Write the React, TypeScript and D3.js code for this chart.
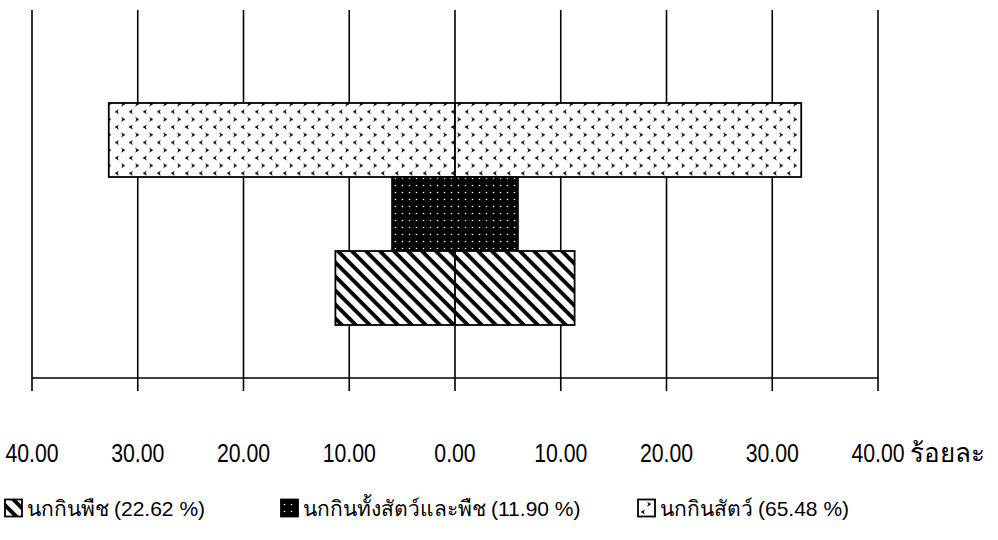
import React from "react";
import * as d3 from "d3";

const categories = ["นกกินสัตว์", "นกกินทั้งสัตว์และพืช", "นกกินพืช"];
const leftValues = [32.74, 5.95, 11.31];
const rightValues = [32.74, 5.95, 11.31];
const tickValues = [-40, -30, -20, -10, 0, 10, 20, 30, 40];
const tickLabels = ["40.00", "30.00", "20.00", "10.00", "0.00", "10.00", "20.00", "30.00", "40.00"];
const legendNames = ["นกกินพืช", "นกกินทั้งสัตว์และพืช", "นกกินสัตว์"];
const legendShares = ["(22.62 %)", "(11.90 %)", "(65.48 %)"];
const legendPatterns = ["hatch", "omni", "carni"];
const barPatterns = ["carni", "omni", "hatch"];
const axisTitle = "ร้อยละ";

const W = 998;
const H = 540;
const NUM_FONT = "'Liberation Sans', Arial, sans-serif";
const THAI_FONT = "'Liberation Sans', sans-serif";

export default function App() {
  const x = d3.scaleLinear().domain([-40, 40]).range([32, 878]);
  const y = d3.scaleBand<string>().domain(categories).range([103, 325]).padding(0);
  const gridTop = 10;
  const axisY = 378;
  const tickBottom = 391;
  const legendX = [5, 281, 638];
  const legendY = 508;

  return (
    <svg
      width={W}
      height={H}
      style={{ position: "absolute", left: 0, top: 0, background: "#fff" }}
      xmlns="http://www.w3.org/2000/svg"
    >
      <defs>
        <pattern id="carni" patternUnits="userSpaceOnUse" width={14} height={15.4}>
          <rect width={14} height={15.4} fill="#fff" />
          <polygon points="7,1.4 2.6,3.9 7,6.4 5.6,3.9" fill="#000" />
          <polygon points="9,9.1 13.4,11.6 9,14.1 10.4,11.6" fill="#000" />
        </pattern>
        <pattern id="omni" patternUnits="userSpaceOnUse" width={7} height={7}>
          <rect width={7} height={7} fill="#000" />
          <circle cx={3.5} cy={3.5} r={0.8} fill="#fff" />
        </pattern>
        <pattern
          id="hatch"
          patternUnits="userSpaceOnUse"
          width={9.9}
          height={10}
          patternTransform="rotate(-45)"
        >
          <rect width={9.9} height={10} fill="#fff" />
          <line x1={2} y1={0} x2={2} y2={10} stroke="#000" strokeWidth={3.8} />
        </pattern>
      </defs>

      {/* grid lines */}
      {tickValues.map((t, i) => (
        <line
          key={"g" + i}
          x1={x(t)}
          x2={x(t)}
          y1={gridTop}
          y2={tickBottom}
          stroke="#000"
          strokeWidth={1.6}
        />
      ))}
      {/* axis line */}
      <line x1={x(-40)} x2={x(40)} y1={axisY} y2={axisY} stroke="#000" strokeWidth={1.6} />

      {/* bars */}
      {categories.map((c, i) => (
        <g key={"b" + i}>
          <rect
            x={x(-leftValues[i])}
            y={y(c)!}
            width={x(0) - x(-leftValues[i])}
            height={y.bandwidth()}
            fill={`url(#${barPatterns[i]})`}
            stroke="#000"
            strokeWidth={1.8}
          />
          <rect
            x={x(0)}
            y={y(c)!}
            width={x(rightValues[i]) - x(0)}
            height={y.bandwidth()}
            fill={`url(#${barPatterns[i]})`}
            stroke="#000"
            strokeWidth={1.8}
          />
        </g>
      ))}

      {/* tick labels */}
      {tickValues.map((t, i) => (
        <text
          key={"t" + i}
          transform={`translate(${x(t)},462) scale(0.85,1)`}
          textAnchor="middle"
          fontFamily={NUM_FONT}
          fontSize={25}
          fill="#000"
        >
          {tickLabels[i]}
        </text>
      ))}
      <text x={910} y={462} fontFamily={THAI_FONT} fontSize={26} fill="#000">
        {axisTitle}
      </text>

      {/* legend */}
      {legendNames.map((l, i) => (
        <g key={"l" + i} transform={`translate(${legendX[i]},${legendY})`}>
          <rect
            x={0}
            y={-8.5}
            width={17}
            height={17}
            fill={`url(#${legendPatterns[i]})`}
            stroke="#000"
            strokeWidth={1.8}
          />
          <text
            x={22}
            y={0}
            dominantBaseline="central"
            fontFamily={THAI_FONT}
            fontSize={21}
            fill="#000"
          >
            {l}
            <tspan dx={5} fontFamily={NUM_FONT}>{legendShares[i]}</tspan>
          </text>
        </g>
      ))}
    </svg>
  );
}
